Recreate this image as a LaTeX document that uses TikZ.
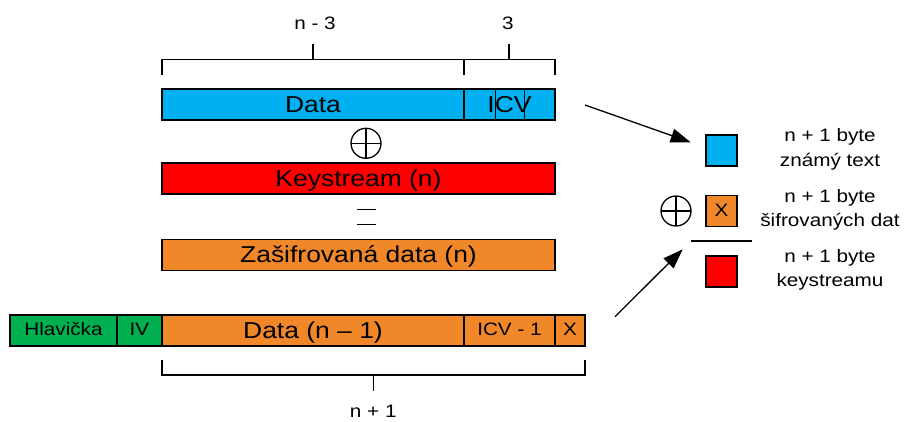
\documentclass[tikz,border=0pt]{standalone}
\usepackage{fontspec}
\setmainfont[FakeStretch=1.15]{Liberation Sans}
\usetikzlibrary{arrows.meta}

\definecolor{plainblue}{HTML}{00B0F0}
\definecolor{keyred}{HTML}{FF0000}
\definecolor{cipherorange}{HTML}{F0882A}
\definecolor{headgreen}{HTML}{00B050}

\newcommand\bigtxt{\fontsize{23}{27}\selectfont}
\newcommand\smalltxt{\fontsize{18}{24.5}\selectfont}

\tikzset{
  field/.style={draw=black, line width=1.3pt, minimum height=31pt, inner sep=0pt,
    anchor=center, font=\bigtxt, text height=20pt, text depth=4pt},
  smallfield/.style={field, font=\smalltxt, text height=14.4pt, text depth=4pt},
  swatch/.style={draw=black, line width=1.3pt, minimum width=31pt, minimum height=31pt,
    inner sep=0pt, font=\smalltxt, text height=14.4pt, text depth=4pt},
  bracket/.style={line width=1.3pt},
  xorsign/.style={circle, draw=black, line width=1.3pt, minimum size=30pt, inner sep=0pt,
    path picture={\draw[line width=1.3pt]
      (path picture bounding box.north) -- (path picture bounding box.south)
      (path picture bounding box.west) -- (path picture bounding box.east);}},
  label/.style={font=\smalltxt, inner sep=0pt},
  arr/.style={line width=1.3pt, -{Triangle[length=20pt, width=14pt]}}
}

\begin{document}
\begin{tikzpicture}[x=1pt, y=-1pt]
\useasboundingbox (0,0) rectangle (906,421);

% --- known plaintext frame with its length brackets
\draw[bracket] (162,75) -- (162,59.5) -- (555,59.5) -- (555,75);
\draw[bracket] (464,59.5) -- (464,75);
\draw[bracket] (313,59.5) -- (313,44);
\draw[bracket] (509,59.5) -- (509,44);
\node[label] (lenA) at (315,23.5) {n - 3};
\node[label] (lenB) at (508,23.5) {3};

\node[field, fill=plainblue, minimum width=302pt] (data) at (313,104.5) {Data};
\node[field, fill=plainblue, minimum width=91pt] (icv) at (509.5,104.5) {};
\draw[line width=0.6pt] (495,89) -- (495,120) (524.5,89) -- (524.5,120);
\node[field, draw=none, inner sep=0pt] (icvtext) at (509.5,104.5) {ICV};

\node[xorsign] (xorA) at (366,143.3) {};

\node[field, fill=keyred, minimum width=393pt] (keys) at (358.5,178.5) {Keystream (n)};

\draw[line width=1.3pt] (357.3,209.3) -- (376,209.3) (357.3,224.3) -- (376,224.3);

\node[field, fill=cipherorange, minimum width=393pt] (cipher) at (358.5,254.75) {Zašifrovaná data (n)};

% --- captured frame, one byte longer
\node[smallfield, fill=headgreen, minimum width=107pt] (head) at (63.5,330.5) {Hlavička};
\node[smallfield, fill=headgreen, minimum width=45pt] (iv) at (139.5,330.5) {IV};
\node[field, fill=cipherorange, minimum width=302pt] (datam) at (313,330.5) {Data (n – 1)};
\node[smallfield, fill=cipherorange, minimum width=91pt] (icvm) at (509.5,330.5) {ICV - 1};
\node[smallfield, fill=cipherorange, minimum width=30pt] (xb) at (570,330.5) {X};

\draw[bracket] (162,360) -- (162,375) -- (585,375) -- (585,360);
\draw[bracket] (373.3,375) -- (373.3,391);
\node[label] (lenC) at (373.3,411.5) {n + 1};

% --- recovering one keystream byte
\node[swatch, fill=plainblue] (kp) at (721.5,150.5) {};
\node[swatch, fill=cipherorange] (cx) at (721.5,211) {X};
\node[swatch, fill=keyred] (ks) at (721.5,271.5) {};
\node[xorsign] (xorB) at (676,211) {};
\draw[line width=1.3pt] (690.7,241) coordinate (barL) -- (752.3,241) coordinate (barR);

\node[label, align=center] (kpl) at (830,149.5) {n + 1 byte\\známý text};
\node[label, align=center] (cxl) at (830,210) {n + 1 byte\\šifrovaných dat};
\node[label, align=center] (ksl) at (830,270) {n + 1 byte\\keystreamu};

\coordinate (a1s) at (585,105);
\coordinate (a1e) at (690.7,142.3);
\coordinate (a2s) at (615,316.7);
\coordinate (a2e) at (682.7,249.3);
\draw[arr] (a1s) -- (a1e);
\draw[arr] (a2s) -- (a2e);
\end{tikzpicture}
\end{document}
